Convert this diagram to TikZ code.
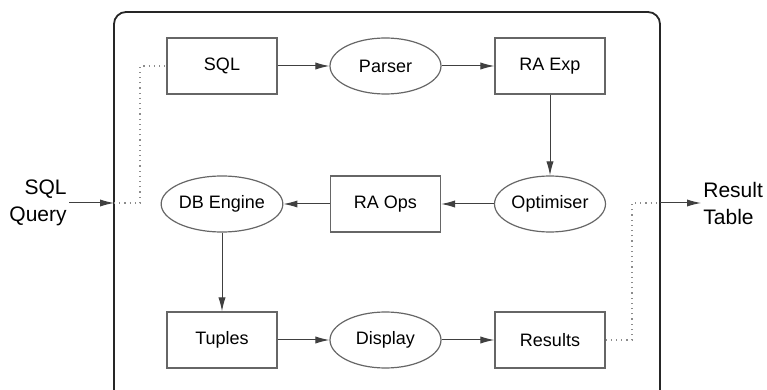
\documentclass[tikz,border=0pt]{standalone}
\usepackage{fontspec}
\setmainfont{Liberation Sans}
\usepackage{tikz}
\usetikzlibrary{arrows.meta,shapes,calc}
\tikzset{
  stage/.style={rectangle,draw=black!60,line width=.6pt,minimum width=55pt,minimum height=28pt,font=\fontsize{9}{11}\selectfont},
  proc/.style={ellipse,draw=black!60,line width=.6pt,minimum width=55.5pt,minimum height=28pt,inner sep=0pt,font=\fontsize{9}{11}\selectfont},
  arr/.style={-{Latex[length=7pt,width=3.6pt]},draw=black!75,line width=.5pt},
  link/.style={draw=black!45,dotted,line width=.6pt},
  outer/.style={font=\fontsize{10.5}{13.5}\selectfont,inner sep=1pt}
}
\begin{document}
\begin{tikzpicture}[x=.5pt,y=-.5pt]
\clip(0,0)rectangle(767,390);
\useasboundingbox(0,0)rectangle(767,390);
%frame
\draw[black!85,line width=.9pt,rounded corners=6pt](114,12)rectangle(660,420);
\coordinate(inL)at(114,203);
\coordinate(outR)at(660,203);
%stages
\node[stage](sql)at(222,66){SQL};
\node[proc](parser)at(385.5,66){Parser};
\node[stage](raexp)at(550,66){RA Exp};
\node[proc](dbeng)at(222,204){DB Engine};
\node[stage](raops)at(385.5,204){RA Ops};
\node[proc](optim)at(550,204){Optimiser};
\node[stage](tuples)at(222,340){Tuples};
\node[proc](display)at(385.5,340){Display};
\node[stage](results)at(550,340){Results};
%labels
\node[outer,anchor=east,align=right](query)at(69,203){SQL\\Query};
\node[outer,anchor=west,align=left](table)at(701,203){Result\\Table};
%lines and arrows
\draw[arr](sql)--(parser);
\draw[arr](parser)--(raexp);
\draw[arr](raexp)--(optim);
\draw[arr](optim)--(raops);
\draw[arr](raops)--(dbeng);
\draw[arr](dbeng)--(tuples);
\draw[arr](tuples)--(display);
\draw[arr](display)--(results);
\draw[arr](query.east|-inL)--(inL);
\draw[arr](outR)--(table.west|-outR);
\draw[link](inL)-|(140,66)--(sql.west);
\draw[link](results.east)-|(632,203)--(outR);
\end{tikzpicture}
\end{document}
